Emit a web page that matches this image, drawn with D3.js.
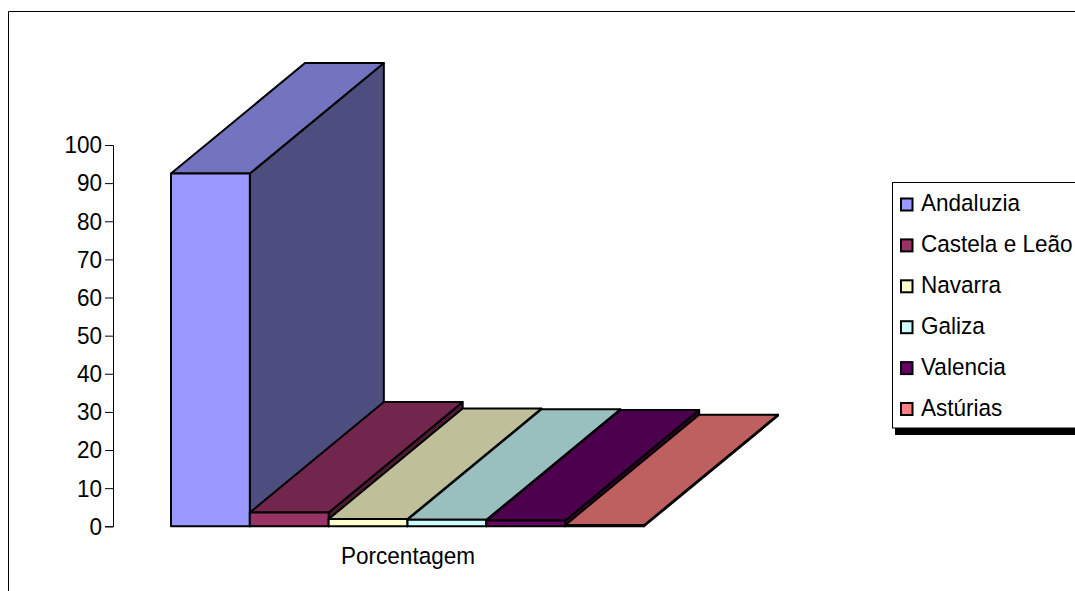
<!DOCTYPE html>
<html>
<head>
<meta charset="utf-8">
<script src="https://cdn.jsdelivr.net/npm/d3@7"></script>
<style>
  html, body { margin: 0; padding: 0; background: #fff; overflow: hidden; }
  svg { display: block; }
  text { font-family: "Liberation Sans", Arial, sans-serif; fill: #000; }
</style>
</head>
<body>
<div id="chart"></div>
<script>
const regions = ["Andaluzia", "Castela e Leão", "Navarra", "Galiza", "Valencia", "Astúrias"];
const percentages = [92.5, 3.6, 1.9, 1.7, 1.5, 0.3];
const colors = ["#9999ff", "#993366", "#ffffcc", "#ccffff", "#660066", "#ff8080"];
const yTicks = [0, 10, 20, 30, 40, 50, 60, 70, 80, 90, 100];
const categoryLabel = "Porcentagem";

const width = 1075, height = 591;
const depthX = 134, depthY = 110.5; // 3d offset of the bars
const fontSize = "24.5px";
const squeeze = 0.92; // the original type is narrower than Liberation Sans

const svg = d3.select("#chart").append("svg")
  .attr("width", width)
  .attr("height", height);

// outer frame, only left and top are inside the picture
svg.append("path")
  .attr("d", "M8.5,591V11.5H1075")
  .attr("fill", "none")
  .attr("stroke", "#000")
  .attr("stroke-width", 1);

const x = d3.scaleBand().domain(regions).range([171, 644]);
const y = d3.scaleLinear().domain([0, 100]).range([526.3, 145]);

// y axis
const yAxis = svg.append("g")
  .attr("transform", "translate(113,0)")
  .call(d3.axisLeft(y).tickValues(yTicks).tickSize(8).tickPadding(3));
yAxis.selectAll("text")
  .style("font-size", fontSize)
  .attr("x", null)
  .attr("transform", `translate(-11,0) scale(${squeeze},1)`);
yAxis.selectAll("line,path").attr("stroke", "#000");

// bars, left to right so the next top covers the previous side
const bars = svg.append("g")
  .attr("stroke", "#000")
  .attr("stroke-width", 2)
  .attr("stroke-linejoin", "round")
  .selectAll("g")
  .data(regions)
  .join("g");

function darker(c, f) {
  const r = d3.rgb(c);
  return d3.rgb(r.r * f, r.g * f, r.b * f);
}

// side
bars.append("path")
  .attr("fill", (d, i) => darker(colors[i], 0.5))
  .attr("d", (d, i) => {
    const x1 = x(d) + x.bandwidth(), y0 = y(0), y1 = y(percentages[i]);
    return `M${x1},${y0}L${x1},${y1}L${x1 + depthX},${y1 - depthY}L${x1 + depthX},${y0 - depthY}Z`;
  });

// top
bars.append("path")
  .attr("fill", (d, i) => darker(colors[i], 0.75))
  .attr("d", (d, i) => {
    const x0 = x(d), x1 = x0 + x.bandwidth(), y1 = y(percentages[i]);
    return `M${x0},${y1}L${x1},${y1}L${x1 + depthX},${y1 - depthY}L${x0 + depthX},${y1 - depthY}Z`;
  });

// front
bars.append("rect")
  .attr("x", d => x(d))
  .attr("y", (d, i) => y(percentages[i]))
  .attr("width", x.bandwidth())
  .attr("height", (d, i) => y(0) - y(percentages[i]))
  .attr("fill", (d, i) => colors[i]);

// category label
svg.append("text")
  .attr("text-anchor", "middle")
  .attr("transform", `translate(408,564) scale(${squeeze},1)`)
  .style("font-size", fontSize)
  .text(categoryLabel);

// legend with shadow, runs off the right edge
svg.append("rect")
  .attr("x", 895).attr("y", 186)
  .attr("width", 200).attr("height", 249)
  .attr("fill", "#000");
svg.append("rect")
  .attr("x", 892.5).attr("y", 182.5)
  .attr("width", 200).attr("height", 245.5)
  .attr("fill", "#fff")
  .attr("stroke", "#000");

const legendY = d3.scalePoint().domain(regions).range([204.5, 409]);
const legend = svg.append("g").selectAll("g")
  .data(regions)
  .join("g")
  .attr("transform", d => `translate(0,${legendY(d)})`);

legend.append("rect")
  .attr("x", 901).attr("y", -6)
  .attr("width", 11.5).attr("height", 12)
  .attr("fill", (d, i) => colors[i])
  .attr("stroke", "#000")
  .attr("stroke-width", 2);

legend.append("text")
  .attr("transform", `translate(921,6.5) scale(${squeeze},1)`)
  .style("font-size", fontSize)
  .text(d => d);
</script>
</body>
</html>
